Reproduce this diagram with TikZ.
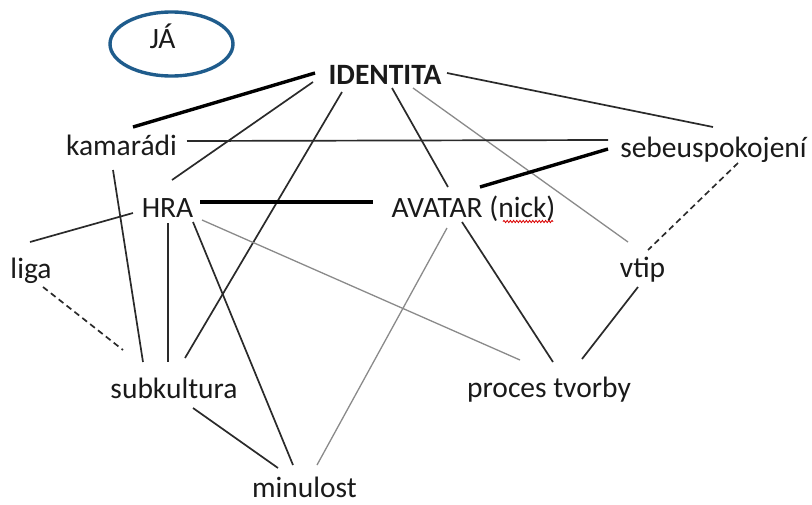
\documentclass[tikz,border=0pt]{standalone}
\usepackage{fontspec}
\setmainfont{Carlito}
\usetikzlibrary{shapes.geometric,decorations.pathmorphing}

\definecolor{inkcol}{HTML}{1A1A1A}
\definecolor{linecol}{HTML}{2A2A2A}
\definecolor{faintcol}{HTML}{8A8A8A}
\definecolor{ringcol}{HTML}{1F5C8C}

\tikzset{
  lbl/.style={inner sep=0pt, outer sep=0pt, anchor=base, text=inkcol,
              font=\fontsize{29.5}{34}\selectfont},
  keylbl/.style={lbl, font=\fontsize{29.5}{34}\selectfont\bfseries},
  ring/.style={ellipse, draw=ringcol, line width=3.4pt, minimum width=123pt,
               minimum height=64pt, inner sep=0pt},
  link/.style={draw=linecol, line width=1.7pt},
  strong/.style={draw=black, line width=3.4pt},
  faint/.style={draw=faintcol, line width=1.3pt},
  dashlink/.style={draw=linecol, line width=1.7pt, dash pattern=on 6pt off 4pt},
  spell/.style={draw=red!85!black, line width=0.8pt,
                decorate, decoration={snake, amplitude=1.1pt, segment length=3.2pt}}
}

% connector between two labels, each end given as an offset from the label's base point
\newcommand{\linkfrom}[5]{\draw[#1] ([shift={#3}]#2.base) -- ([shift={#5}]#4.base);}

\begin{document}
\begin{tikzpicture}[x=1pt, y=-1pt]
  \useasboundingbox (0,0) rectangle (812,504);

  % the "I" bubble
  \node[ring] (ja) at (171.5,44) {};
  \node[lbl] (jatext) at (162.5,48) {JÁ};

  % concepts
  \node[keylbl] (id)   at (385,84)    {IDENTITA};
  \node[lbl]    (kam)  at (121.5,155) {kamarádi};
  \node[lbl]    (seb)  at (713.5,157) {sebeuspokojení};
  \node[lbl]    (hra)  at (167.5,217) {HRA};
  \node[lbl]    (av)   at (473.5,217) {AVATAR (nick)};
  \node[lbl]    (liga) at (31,278)    {liga};
  \node[lbl]    (vtip) at (642.5,277) {vtip};
  \node[lbl]    (sub)  at (174,398)   {subkultura};
  \node[lbl]    (proc) at (549,397)   {proces tvorby};
  \node[lbl]    (min)  at (304.5,497) {minulost};

  % spell-check underline below "nick"
  \draw[spell] ([shift={(29.5,4.5)}]av.base) -- ([shift={(79.5,4.5)}]av.base);

  % links from IDENTITA
  \linkfrom{strong}{id}{(-70,-11)}{kam}{(11.5,-28)}
  \linkfrom{link}{id}{(-72,-2)}{hra}{(4.5,-37)}
  \linkfrom{link}{id}{(-43,8)}{sub}{(11,-40)}
  \linkfrom{link}{id}{(7,4)}{av}{(-25.5,-30)}
  \linkfrom{faint}{id}{(28,4)}{vtip}{(-14.5,-35)}
  \linkfrom{link}{id}{(62,-11)}{seb}{(-0.5,-30)}

  % middle layer
  \linkfrom{link}{kam}{(65.5,-14)}{seb}{(-105.5,-17)}
  \linkfrom{strong}{seb}{(-105.5,-8)}{av}{(6.5,-30)}
  \linkfrom{dashlink}{seb}{(24.5,6)}{vtip}{(5.5,-27)}
  \linkfrom{strong}{hra}{(32.5,-15)}{av}{(-100.5,-15)}
  \linkfrom{link}{hra}{(-34.5,-4)}{liga}{(-1,-36)}
  \linkfrom{link}{hra}{(0.5,6)}{sub}{(-6,-36)}
  \linkfrom{link}{hra}{(25.5,5)}{min}{(-11.5,-32)}
  \linkfrom{faint}{hra}{(34.5,3)}{proc}{(-29,-37)}
  \linkfrom{link}{kam}{(-8.5,15)}{sub}{(-31,-36)}
  \linkfrom{dashlink}{liga}{(12,9)}{sub}{(-51,-48)}

  % lower layer
  \linkfrom{link}{sub}{(19,10)}{min}{(-26.5,-29)}
  \linkfrom{faint}{av}{(-26.5,11)}{min}{(12.5,-32)}
  \linkfrom{link}{av}{(-11.5,5)}{proc}{(4,-35)}
  \linkfrom{link}{vtip}{(-4.5,10)}{proc}{(33,-38)}
\end{tikzpicture}
\end{document}
